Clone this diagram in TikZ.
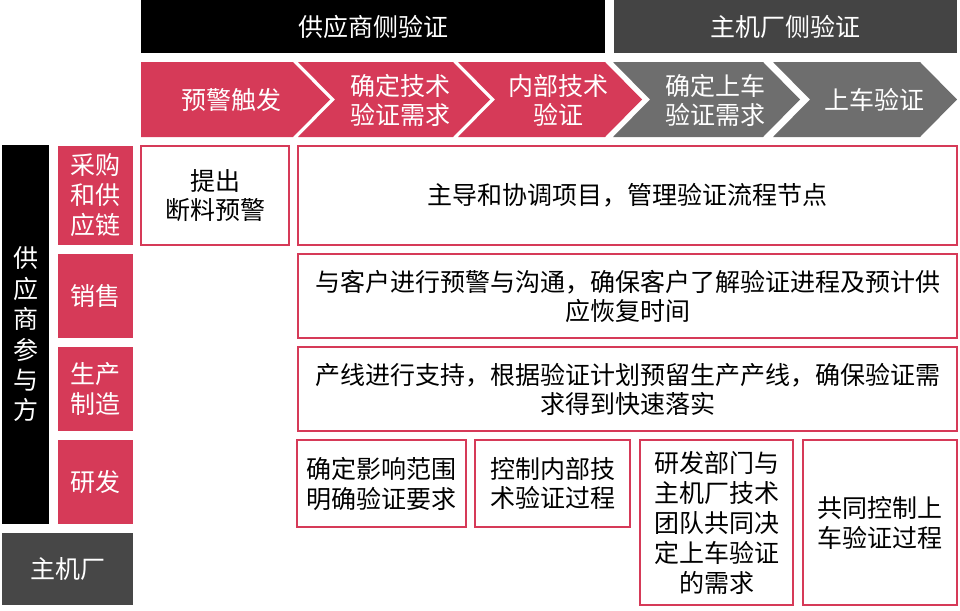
\documentclass[tikz,border=0pt]{standalone}
\usepackage{fontspec}
\setmainfont{Noto Sans CJK SC}
\usetikzlibrary{positioning}
\usepackage{xcolor}
\definecolor{supred}{HTML}{D63A58}
\definecolor{oemdark}{HTML}{444444}
\definecolor{oemgray}{HTML}{6E6E6E}
\definecolor{oembox}{HTML}{474747}

\begin{document}
\begin{tikzpicture}[
    x=1pt, y=-1pt, % pixel grid of the reference
    every node/.style={font=\fontsize{25}{29}\selectfont, align=center, inner sep=0pt},
    size/.style 2 args={minimum width=#1, minimum height=#2},
    head/.style={fill=black, text=white}, % supplier side header
    headoem/.style={fill=oemdark, text=white}, % OEM side header
    party/.style={fill=supred, text=white, font=\fontsize{25}{30}\selectfont}, % supplier department
    oem/.style={fill=oembox, text=white}, % OEM label
    task/.style={draw=supred, line width=1.5pt, fill=white, text=black}, % task cell
    stage/.style={text=white} % stage text on chevron
]
\useasboundingbox (0,0) rectangle (960,610);

% headers
\node[head, size={464}{53}] (hsup) at (373,26.5) {供应商侧验证};
\node[headoem, size={343}{53}] (hoem) at (785.5,26.5) {主机厂侧验证};

% stage chevrons
\fill[supred] (141,62) -- (293,62) -- ++(37,37.5) -- ++(-37,37.5) -- (141,137) -- cycle;
\foreach \l/\r/\c in {298/453/supred, 458/605/supred, 613/763/oemgray, 773/920/oemgray}
    \fill[\c] (\l,62) -- (\r,62) -- ++(37,37.5) -- ++(-37,37.5) -- (\l,137) -- ++(37,-37.5) -- cycle;
\node[stage] (st1) at (231,100) {预警触发};
\node[stage] (st2) at (400,100) {确定技术\\验证需求};
\node[stage] (st3) at (558,100) {内部技术\\验证};
\node[stage] (st4) at (715,100) {确定上车\\验证需求};
\node[stage] (st5) at (874,100) {上车验证};

% participants
\node[head, size={47}{379}, font=\fontsize{25}{30.4}\selectfont] (side) at (25.5,334.5) {供\\应\\商\\参\\与\\方};
\node[party, size={75}{99}] (pur) at (95.5,195.5) {采购\\和供\\应链};
\node[party, size={75}{84}] (sal) at (95.5,296) {销售};
\node[party, size={75}{84}] (pro) at (95.5,389) {生产\\制造};
\node[party, size={75}{84}] (rnd) at (95.5,482) {研发};
\node[oem, size={131}{72}] (oem) at (67.5,569) {主机厂};

% tasks
\node[task, size={148}{99}] (tpur1) at (215,195.5) {提出\\断料预警};
\node[task, size={659}{99}] (tpur2) at (627.5,195.5) {主导和协调项目，管理验证流程节点};
\node[task, size={659}{84}] (tsal) at (627.5,296) {与客户进行预警与沟通，确保客户了解验证进程及预计供\\应恢复时间};
\node[task, size={659}{84}] (tpro) at (627.5,389) {产线进行支持，根据验证计划预留生产产线，确保验证需\\求得到快速落实};
\node[task, size={169}{87}, font=\fontsize{25}{30}\selectfont] (trnd1) at (381.5,483.5) {确定影响范围\\明确验证要求};
\node[task, size={155}{87}] (trnd2) at (552.5,483.5) {控制内部技\\术验证过程};
\node[task, size={153}{165}, font=\fontsize{25}{30}\selectfont] (trnd3) at (716.5,522.5) {研发部门与\\主机厂技术\\团队共同决\\定上车验证\\的需求};
\node[task, size={154}{165}, font=\fontsize{25}{30}\selectfont] (trnd4) at (880,522.5) {共同控制上\\车验证过程};
\end{tikzpicture}
\end{document}
